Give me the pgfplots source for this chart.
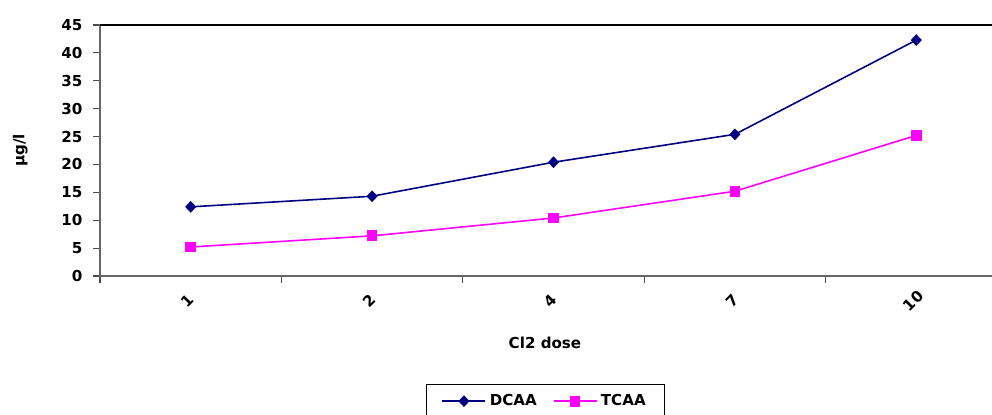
\documentclass[border=0pt]{standalone}
\usepackage{fontspec}
\setmainfont{DejaVu Sans}
\usepackage{pgfplots}
\pgfplotsset{compat=1.18}
\definecolor{dcaa}{RGB}{0,0,128}
\definecolor{tcaa}{RGB}{255,0,255}
\newcommand{\lf}{\fontsize{8.6}{10}\selectfont\bfseries}
\begin{document}
\begin{tikzpicture}
\useasboundingbox (-2cm,-2.76cm) rectangle (17.84cm,5.52cm);
\clip (-2cm,-2.76cm) rectangle (17.84cm,5.52cm);
\begin{scope}[overlay]
\begin{axis}[
  at={(0,0)}, anchor=origin,
  scale only axis, width=18.14cm, height=5.02cm,
  xmin=0.5, xmax=5.5, ymin=0, ymax=45,
  ytick={0,5,...,45},
  xtick={0.5,1.5,...,5.5}, xticklabels={},
  extra x ticks={1,2,3,4,5},
  extra x tick labels={1,2,4,7,10},
  extra x tick style={major tick length=0pt,
    xticklabel style={anchor=center, yshift=-0.5cm, xshift=-0.06cm, rotate=45}},
  tick pos=left,
  tick align=outside, major tick length=0.13cm,
  tick style={black!70, line width=0.6pt},
  axis line style={black!60, line width=0.8pt},
  /pgf/number format/assume math mode=true,
  ticklabel style={font=\lf},
  yticklabel style={xshift=-0.1cm},
  xlabel={Cl2 dose}, ylabel={µg/l},
  every axis x label/.style={font=\lf, at={(axis description cs:0.4906,-0.267)}, anchor=center},
  every axis y label/.style={font=\lf, at={(axis description cs:-0.088,0.5)}, anchor=center, rotate=90},
  legend columns=2,
  legend style={font=\lf, draw=black, line width=0.8pt, at={(axis description cs:0.3594,-0.4303)}, anchor=north west,
    /tikz/every even column/.append style={column sep=0.25cm}, inner xsep=0.3cm, inner ysep=0.12cm},
  legend image code/.code={\draw[mark repeat=2, mark phase=2] plot coordinates {(0cm,0cm) (0.43cm,0cm) (0.86cm,0cm)};},
]
\addplot[color=dcaa, line width=0.9pt, mark=diamond*, mark size=2.7pt, mark options={solid, fill=dcaa, xscale=1.25}]
  coordinates {(1,12.4) (2,14.3) (3,20.4) (4,25.4) (5,42.3)};
\addlegendentry{DCAA}
\addplot[color=tcaa, line width=0.9pt, mark=square*, mark size=2.6pt, mark options={solid, fill=tcaa}]
  coordinates {(1,5.2) (2,7.2) (3,10.4) (4,15.2) (5,25.2)};
\addlegendentry{TCAA}
\end{axis}
\draw[black, line width=0.9pt] (0,5.02cm) -- (18.14cm,5.02cm);
\end{scope}
\end{tikzpicture}
\end{document}
